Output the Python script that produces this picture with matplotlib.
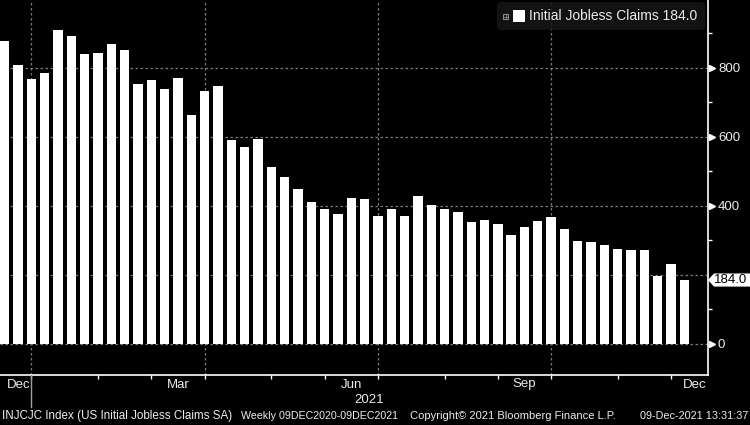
import numpy as np
import pandas as pd
import matplotlib
matplotlib.use('Agg')
import matplotlib.pyplot as plt
from matplotlib import font_manager
from matplotlib.patches import FancyBboxPatch, Rectangle, Polygon
from matplotlib.lines import Line2D
from matplotlib.transforms import blended_transform_factory

# weekly initial jobless claims (thousands), Fridays
weeks = pd.date_range('2020-12-18', periods=52, freq='W-FRI')
claims = [877, 807, 767, 784, 909, 891, 839, 842, 868, 850,
          752, 764, 738, 770, 662, 732, 746, 590, 569, 593,
          511, 482, 448, 409, 391, 375, 421, 419, 370, 391,
          370, 427, 401, 391, 382, 352, 358, 346, 314, 337,
          355, 366, 332, 297, 294, 285, 274, 271, 271, 196,
          230, 184]
last_value = claims[-1]
y_major = [0, 200, 400, 600, 800]
y_labels = ['0', '', '400', '600', '800']
y_minor = [100, 300, 500, 700, 900]

names = {f.name for f in font_manager.fontManager.ttflist}
main_font = 'Liberation Sans' if 'Liberation Sans' in names else 'DejaVu Sans'
plt.rcParams['font.family'] = [main_font, 'DejaVu Sans']

fg = '#ececec'
grid_col = '#7a7a7a'
W, H = 750, 425

fig = plt.figure(figsize=(7.5, 4.25), dpi=100, facecolor='black')
ax = fig.add_axes([0, 1 - 375 / H, 707.5 / W, 375 / H])
ax.set_facecolor('black')

idx = np.arange(len(claims))
ax.bar(idx, claims, width=0.70, color='white', zorder=3)

ax.set_xlim(-0.35, 52.73)
ax.set_ylim(-91.3, 995.7)

# month starts from the weekly dates
months = weeks.month
month_start = [i for i in range(1, len(weeks)) if months[i] != months[i - 1]]
quarter_start = [i for i in month_start if months[i] in (1, 4, 7, 10)]

for s in ['top', 'left']:
    ax.spines[s].set_visible(False)
for s in ['right', 'bottom']:
    ax.spines[s].set_color('white')
    ax.spines[s].set_linewidth(1.2)

ax.set_xticks(month_start)
ax.set_xticklabels([])
ax.tick_params(axis='x', direction='out', length=3, width=1, color='white')

ax.yaxis.tick_right()
ax.set_yticks(y_major)
ax.set_yticklabels(y_labels)
ax.set_yticks(y_minor, minor=True)
ax.tick_params(axis='y', which='major', length=0, pad=7.5, labelsize=9.5, labelcolor=fg)
ax.tick_params(axis='y', which='minor', direction='out', length=3, width=1, color='white')

# dashed grid behind the bars
for v in y_major:
    ax.axhline(v, color=grid_col, lw=0.9, dashes=(2, 2), zorder=1)
for q in quarter_start:
    ax.axvline(q, color=grid_col, lw=0.9, dashes=(2, 2), zorder=1)

# little arrow heads on the value axis
tr_yr = blended_transform_factory(fig.transFigure, ax.transData)
for v in [0, 400, 600, 800]:
    ax.plot([711.5 / W], [v], marker='>', markersize=5, color='white',
            transform=tr_yr, clip_on=False, linestyle='none')

# last value tag
dy = 19
tag = Polygon([(708 / W, last_value), (714 / W, last_value + dy), (1.0, last_value + dy),
               (1.0, last_value - dy), (714 / W, last_value - dy)],
              closed=True, facecolor='white', edgecolor='none', transform=tr_yr,
              clip_on=False, zorder=5)
fig.patches.append(tag)
fig.text(714 / W, last_value, '%.1f' % last_value, color='black', fontsize=9.5, va='center',
         ha='left', transform=tr_yr, zorder=6)

# month labels centred in their month
tr_x = blended_transform_factory(ax.transData, fig.transFigure)
y_month = (H - 384.5) / H
fig.text(7 / W, y_month, 'Dec', color=fg, fontsize=9.5, ha='left', va='center')
for lab, a, b in [('Mar', 11, 15), ('Jun', 24, 28), ('Sep', 37, 41)]:
    fig.text((a + b) / 2, y_month, lab, color=fg, fontsize=9.5, ha='center',
             va='center', transform=tr_x)
fig.text(707 / W, y_month, 'Dec', color=fg, fontsize=9.5, ha='right', va='center')
fig.text((month_start[0] + 52.73) / 2, (H - 400) / H, '2021', color=fg, fontsize=9.5,
         ha='center', va='center', transform=tr_x)
fig.lines.append(Line2D([month_start[0], month_start[0]], [(H - 375) / H, (H - 407) / H],
                        color='#a0a0a0', lw=1, transform=tr_x))

# legend box
fig.patches.append(FancyBboxPatch((497 / W, (H - 30) / H), 208 / W, 28 / H,
                                  boxstyle='round,pad=0,rounding_size=0.006',
                                  facecolor='#161616', edgecolor='none', alpha=0.85,
                                  transform=fig.transFigure, zorder=4))
fig.patches.append(Rectangle((503 / W, (H - 19) / H), 5 / W, 5 / H, fill=False,
                             edgecolor='#8a8a8a', lw=0.8, transform=fig.transFigure, zorder=5))
fig.lines.append(Line2D([504 / W, 507 / W], [(H - 16.5) / H] * 2, color='#8a8a8a', lw=0.6,
                        transform=fig.transFigure, zorder=5))
fig.lines.append(Line2D([505.5 / W] * 2, [(H - 18) / H, (H - 15) / H], color='#8a8a8a', lw=0.6,
                        transform=fig.transFigure, zorder=5))
fig.patches.append(Rectangle((513 / W, (H - 22) / H), 12 / W, 12 / H, facecolor='white',
                             edgecolor='none', transform=fig.transFigure, zorder=5))
fig.text(529 / W, (H - 16.5) / H, 'Initial Jobless Claims %.1f' % last_value, color=fg,
         fontsize=10, ha='left', va='center', zorder=6)

# footer
y_foot = (H - 416) / H
fig.text(2 / W, y_foot, 'INJCJC Index (US Initial Jobless Claims SA)', color=fg,
         fontsize=8.4, va='center', ha='left')
fig.text(241 / W, y_foot, 'Weekly 09DEC2020-09DEC2021', color=fg,
         fontsize=7.7, va='center', ha='left')
fig.text(410 / W, y_foot, 'Copyright\u00a9 2021 Bloomberg Finance L.P.', color=fg,
         fontsize=8.0, va='center', ha='left')
fig.text(748 / W, y_foot, '09-Dec-2021 13:31:37', color=fg,
         fontsize=7.8, va='center', ha='right')

fig.savefig('out.png', dpi=100, facecolor='black')
